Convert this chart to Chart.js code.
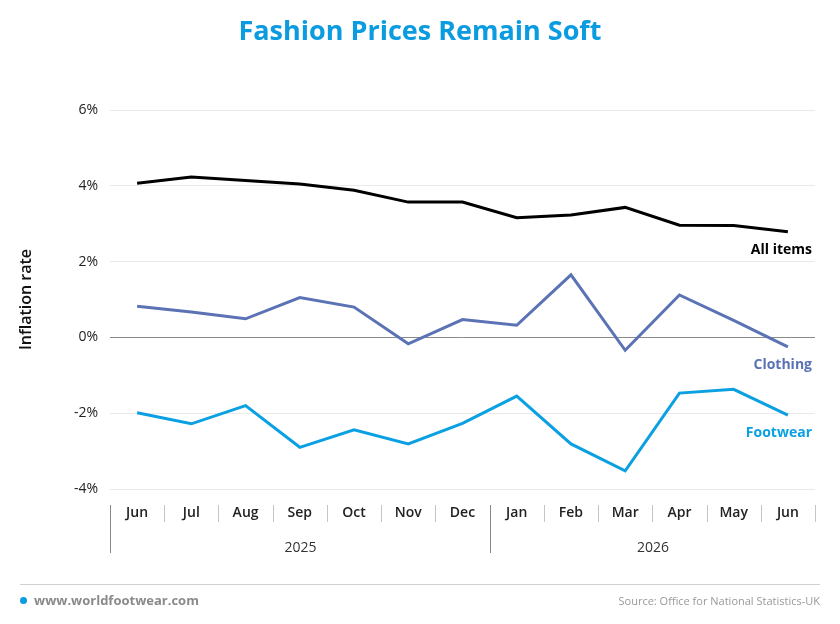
<!DOCTYPE html>
<html>
<head>
<meta charset="utf-8">
<script src="https://cdn.jsdelivr.net/npm/chart.js@4.4.1/dist/chart.umd.min.js"></script>
<style>
  body { margin: 0; background: #fff; font-family: "Open Sans", sans-serif; }
  #wrap { position: relative; width: 840px; height: 624px; }
  #title { position: absolute; top: 11px; left: 0; width: 840px; text-align: center;
    font-size: 27px; font-weight: 700; color: #0a9be0; }
  #rule { position: absolute; top: 584px; left: 20px; width: 800px; border-top: 1px solid #d0d0d0; }
  #site { position: absolute; top: 591px; left: 20px; font-size: 13px; font-weight: 700; color: #8a8a8a; }
  #site span { display: inline-block; width: 7px; height: 7px; border-radius: 50%; background: #0a9be0; margin-right: 7px; vertical-align: 1px; }
  #source { position: absolute; top: 593px; right: 20px; font-size: 11px; color: #999; }
  canvas { position: absolute; top: 0; left: 0; }
</style>
</head>
<body>
<div id="wrap">
  <canvas id="chart" width="840" height="624"></canvas>
  <div id="title">Fashion Prices Remain Soft</div>
  <div id="rule"></div>
  <div id="site"><span></span>www.worldfootwear.com</div>
  <div id="source">Source: Office for National Statistics-UK</div>
</div>
<script>
const months = ["Jun", "Jul", "Aug", "Sep", "Oct", "Nov", "Dec", "Jan", "Feb", "Mar", "Apr", "May", "Jun"];
const years = ["2025", "2026"];
const monthsPerYear = [7, 6];
const allItems = [4.07, 4.23, 4.14, 4.05, 3.88, 3.57, 3.57, 3.16, 3.23, 3.43, 2.96, 2.95, 2.79];
const clothing = [0.82, 0.67, 0.49, 1.05, 0.8, -0.17, 0.47, 0.32, 1.65, -0.34, 1.12, 0.45, -0.25];
const footwear = [-1.99, -2.28, -1.8, -2.9, -2.44, -2.81, -2.27, -1.55, -2.81, -3.52, -1.47, -1.37, -2.05];
const yTicks = [-4, -2, 0, 2, 4, 6];

const font = "'Open Sans', sans-serif";

function series(label, data, color) {
  return {
    label: label,
    data: data,
    borderColor: color,
    backgroundColor: color,
    borderWidth: 3,
    pointRadius: 0,
    tension: 0,
  };
}

// end-of-line labels under the last point
const endLabels = {
  id: "endLabels",
  afterDatasetsDraw(chart) {
    const ctx = chart.ctx;
    const area = chart.chartArea;
    ctx.save();
    ctx.font = "700 14px " + font;
    ctx.textAlign = "right";
    ctx.textBaseline = "middle";
    chart.data.datasets.forEach((ds, i) => {
      const pt = chart.getDatasetMeta(i).data[ds.data.length - 1];
      ctx.fillStyle = ds.borderColor;
      ctx.fillText(ds.label, area.right - 3, pt.y + 18);
    });
    ctx.restore();
  },
};

// month separators and year groups under the x axis
const yearAxis = {
  id: "yearAxis",
  afterDraw(chart) {
    const ctx = chart.ctx;
    const x = chart.scales.x;
    const half = (x.getPixelForValue(1) - x.getPixelForValue(0)) / 2;
    const edge = (i) => Math.round(x.getPixelForValue(i) - half) + 0.5;
    ctx.save();
    ctx.lineWidth = 1;
    for (let i = 0; i <= months.length; i++) {
      ctx.strokeStyle = "#c4c4c4";
      ctx.beginPath();
      ctx.moveTo(edge(i), 505);
      ctx.lineTo(edge(i), 522);
      ctx.stroke();
    }
    let start = 0;
    ctx.font = "400 14px " + font;
    ctx.fillStyle = "#333";
    ctx.textAlign = "center";
    ctx.textBaseline = "middle";
    years.forEach((yr, i) => {
      const end = start + monthsPerYear[i];
      ctx.strokeStyle = "#888";
      ctx.beginPath();
      ctx.moveTo(edge(start), 505);
      ctx.lineTo(edge(start), 553);
      ctx.stroke();
      ctx.fillText(yr, (edge(start) + edge(end)) / 2, 548);
      start = end;
    });
    ctx.restore();
  },
};

new Chart(document.getElementById("chart"), {
  type: "line",
  data: {
    labels: months,
    datasets: [
      series("All items", allItems, "#000000"),
      series("Clothing", clothing, "#5b73b5"),
      series("Footwear", footwear, "#0aa0e2"),
    ],
  },
  options: {
    responsive: false,
    animation: false,
    layout: { padding: { top: 110, right: 25, bottom: 55, left: 0 } },
    plugins: {
      legend: { display: false },
      tooltip: { enabled: false },
    },
    scales: {
      x: {
        offset: true,
        grid: { display: false, drawTicks: false },
        border: { display: false },
        ticks: {
          color: "#222",
          font: { family: font, size: 14, weight: "600" },
          padding: 16,
          maxRotation: 0,
          autoSkip: false,
        },
        afterFit(scale) { scale.height = 80; },
      },
      y: {
        min: -4,
        max: 6,
        afterBuildTicks(scale) { scale.ticks = yTicks.map((v) => ({ value: v })); },
        grid: {
          color: (c) => (c.tick && c.tick.value === 0 ? "#8a8a8a" : "#e9e9e9"),
          drawTicks: false,
        },
        border: { display: false },
        ticks: {
          color: "#222",
          font: { family: font, size: 14 },
          padding: 12,
          callback: (v) => v + "%",
        },
        title: {
          display: true,
          text: "Inflation rate",
          color: "#111",
          font: { family: font, size: 16, weight: "600" },
          padding: { top: 17, bottom: 10 },
        },
        afterFit(scale) { scale.width = 110; },
      },
    },
  },
  plugins: [endLabels, yearAxis],
});
</script>
</body>
</html>
